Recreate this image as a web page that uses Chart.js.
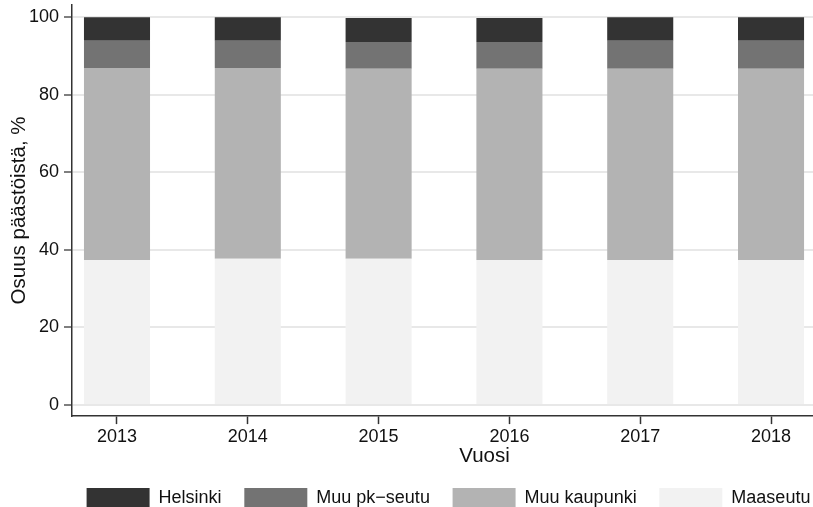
<!DOCTYPE html>
<html>
<head>
<meta charset="utf-8">
<script src="https://cdn.jsdelivr.net/npm/chart.js@4/dist/chart.umd.min.js"></script>
<style>
  html, body { margin: 0; padding: 0; background: #fff; overflow: hidden; }
  #wrap { position: absolute; left: 0; top: -11px; width: 897px; height: 529px; }
</style>
</head>
<body>
<div id="wrap"><canvas id="chart"></canvas></div>
<script>
const years = [2013, 2014, 2015, 2016, 2017, 2018];
const yTicks = [0, 20, 40, 60, 80, 100];

// osuudet, % (alhaalta ylös)
const maaseutu    = [37.4, 37.7, 37.7, 37.4, 37.4, 37.4];
const muuKaupunki = [49.5, 49.2, 49.0, 49.3, 49.3, 49.3];
const muuPkSeutu  = [7.0, 7.0, 6.9, 6.9, 7.2, 7.2];
const helsinki    = [6.1, 6.1, 6.2, 6.2, 6.1, 6.1];

const pts = arr => arr.map((v, i) => ({ x: years[i], y: v }));

Chart.defaults.font.family = '"Liberation Sans", Arial, sans-serif';
Chart.defaults.font.size = 18;
Chart.defaults.color = '#111';

new Chart(document.getElementById('chart'), {
    type: 'bar',
    data: {
        datasets: [
            { label: 'Maaseutu', data: pts(maaseutu), backgroundColor: '#f2f2f2' },
            { label: 'Muu kaupunki', data: pts(muuKaupunki), backgroundColor: '#b3b3b3' },
            { label: 'Muu pk\u2212seutu', data: pts(muuPkSeutu), backgroundColor: '#737373' },
            { label: 'Helsinki', data: pts(helsinki), backgroundColor: '#333333' }
        ]
    },
    options: {
        responsive: true,
        maintainAspectRatio: false,
        animation: false,
        layout: { padding: { left: 0, right: 0, top: 5, bottom: 0 } },
        datasets: {
            bar: { barPercentage: 1, categoryPercentage: 0.505, borderWidth: 0 }
        },
        plugins: {
            tooltip: { enabled: false },
            legend: {
                position: 'bottom',
                reverse: true,
                labels: {
                    boxWidth: 63,
                    boxHeight: 20,
                    padding: 22.7,
                    color: '#111',
                    font: { size: 18 }
                }
            }
        },
        scales: {
            x: {
                type: 'linear',
                stacked: true,
                offset: false,
                min: 2012.656,
                max: 2018.963,
                afterBuildTicks: s => { s.ticks = years.map(v => ({ value: v })); },
                ticks: { callback: v => String(v), padding: 2, maxRotation: 0, autoSkip: false },
                grid: { offset: false, drawOnChartArea: false, tickLength: 8, tickColor: '#333', tickWidth: 1.5 },
                border: { color: '#333', width: 1.5 },
                title: { display: true, text: 'Vuosi', padding: { top: -5.5, bottom: -3.5 }, font: { size: 20.5 } }
            },
            y: {
                stacked: true,
                min: -2.85,
                max: 103.2,
                afterBuildTicks: s => { s.ticks = yTicks.map(v => ({ value: v })); },
                afterFit: s => { s.width = 72; },
                ticks: { padding: 5 },
                grid: { color: '#e8e8e8', lineWidth: 2, tickLength: 8, tickColor: '#555', tickWidth: 1.5 },
                border: { color: '#333', width: 1.5 },
                title: { display: true, text: 'Osuus päästöistä, %', padding: { top: 7, bottom: 0 }, font: { size: 20.5 } }
            }
        }
    }
});
</script>
</body>
</html>
